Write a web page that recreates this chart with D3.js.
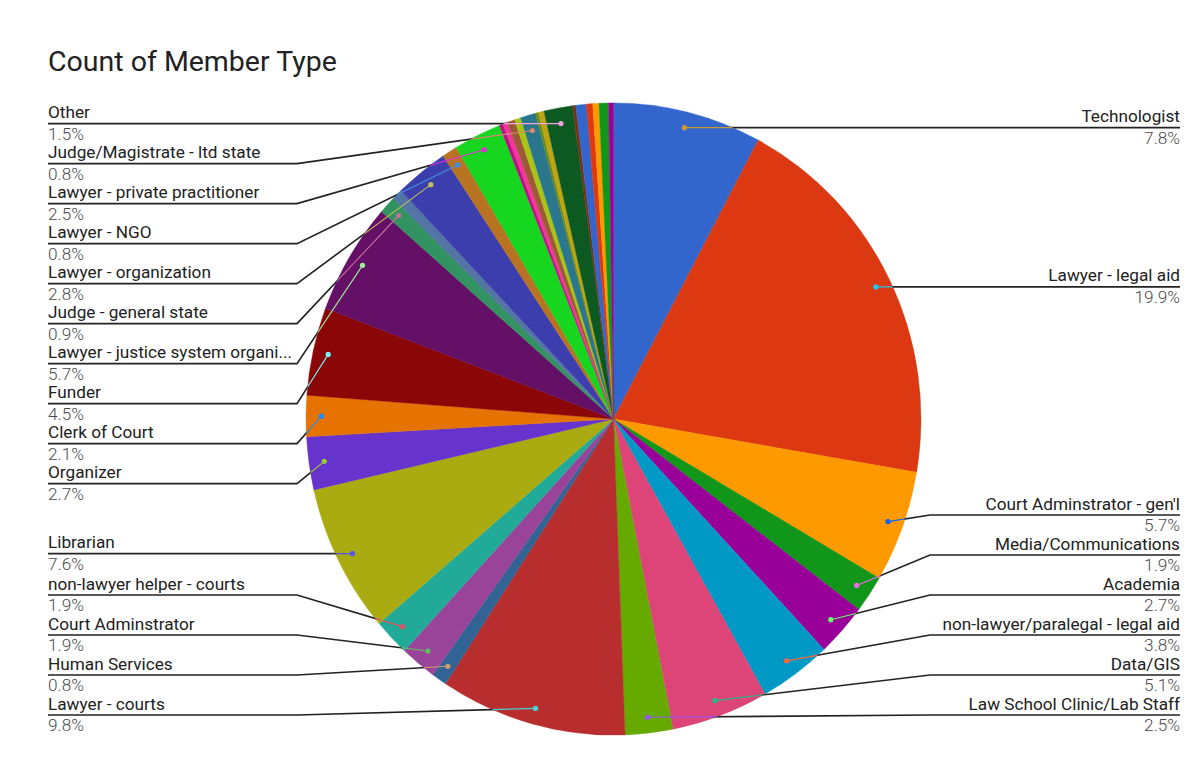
<!DOCTYPE html>
<html>
<head>
<meta charset="utf-8">
<script src="https://cdn.jsdelivr.net/npm/d3@7"></script>
<style>
  html, body { margin: 0; padding: 0; background: #fff; }
  svg { display: block; font-family: Roboto, "Noto Sans", Arial, sans-serif; }
</style>
</head>
<body>
<svg id="chart" width="1204" height="765"></svg>
<script>
// Member types in sheet order (pie runs clockwise from 12 o'clock).
// Empty names are small categories whose labels are not shown.
const memberTypes = [
  "Technologist",
  "Lawyer - legal aid",
  "Court Adminstrator - gen'l",
  "Media/Communications",
  "Academia",
  "non-lawyer/paralegal - legal aid",
  "Data/GIS",
  "Law School Clinic/Lab Staff",
  "Lawyer - courts",
  "Human Services",
  "Court Adminstrator",
  "non-lawyer helper - courts",
  "Librarian",
  "Organizer",
  "Clerk of Court",
  "Funder",
  "Lawyer - justice system organization",
  "Judge - general state",
  "",
  "Lawyer - organization",
  "Lawyer - NGO",
  "Lawyer - private practitioner",
  "", "", "", "",
  "Judge/Magistrate - ltd state",
  "", "",
  "Other",
  "", "", "", "", "", ""
];

// Share of members per type (percent).
const memberShares = [
  7.8, 19.9, 5.7, 1.9, 2.7, 3.8, 5.1, 2.5, 9.8, 0.8,
  1.9, 1.9, 7.6, 2.7, 2.1, 4.5, 5.7, 0.9, 0.55, 2.8,
  0.8, 2.5, 0.2, 0.25, 0.39, 0.33, 0.8, 0.15, 0.3, 1.5,
  0.17, 0.55, 0.33, 0.33, 0.5, 0.25
];

// Series palette, assigned in order.
const palette = [
  "#3366cc", "#dc3912", "#ff9900", "#109618", "#990099", "#0099c6",
  "#dd4477", "#66aa00", "#b82e2e", "#316395", "#994499", "#22aa99",
  "#aaaa11", "#6633cc", "#e67300", "#8b0707", "#651067", "#329262",
  "#5574a6", "#3b3eac", "#b77322", "#16d620", "#b91383", "#f4359e",
  "#9c5935", "#a9c413", "#2a778d", "#668d1c", "#bea413", "#0c5922",
  "#743411"
];

const chartTitle = "Count of Member Type";

// ---- layout ----
const W = 1204, H = 765;
const cx = 613.5, cy = 419, R = 307.5, yStretch = 1.028;
const anchorFrac = 0.95;
const leftX = 48, rightX = 1180;
const elbowGap = 9;
const rowGap = 40, labelTop = 118, labelBottom = 715;

const svg = d3.select("#chart").attr("viewBox", `0 0 ${W} ${H}`);
const defs = svg.append("defs");

svg.append("text")
  .attr("x", 48).attr("y", 71)
  .attr("font-size", 28.5)
  .attr("fill", "#212121")
  .text(chartTitle);

const color = d3.scaleOrdinal().domain(d3.range(memberTypes.length)).range(palette);
const total = d3.sum(memberShares);
const pctFmt = d3.format(".1f");

const rows = memberTypes.map((name, i) => ({ name, value: memberShares[i], idx: i }));
const arcs = d3.pie().sort(null).value(d => d.value)(rows);
const arc = d3.arc().innerRadius(0).outerRadius(R);

// pie slices
const pieG = svg.append("g")
  .attr("transform", `translate(${cx},${cy}) scale(1,${yStretch})`);
pieG.selectAll("path")
  .data(arcs)
  .join("path")
  .attr("d", arc)
  .attr("fill", d => color(d.data.idx))
  .attr("stroke", d => color(d.data.idx))
  .attr("stroke-width", 0.4);

// clip to the pie outline, and a mask for everything outside it
defs.append("clipPath").attr("id", "pieClip")
  .attr("clipPathUnits", "userSpaceOnUse")
  .append("ellipse").attr("cx", cx).attr("cy", cy).attr("rx", R).attr("ry", R * yStretch);
const mask = defs.append("mask").attr("id", "outsidePie")
  .attr("maskUnits", "userSpaceOnUse")
  .attr("x", 0).attr("y", 0).attr("width", W).attr("height", H);
mask.append("rect").attr("width", W).attr("height", H).attr("fill", "#fff");
mask.append("ellipse").attr("cx", cx).attr("cy", cy).attr("rx", R - 0.5).attr("ry", (R - 0.5) * yStretch).attr("fill", "#000");

function inverse(c) {
  const r = d3.rgb(c);
  return d3.rgb(255 - r.r, 255 - r.g, 255 - r.b).formatHex();
}

// label anchors on the slice mid-angles
const labels = arcs.filter(d => d.data.name).map(d => {
  const a = (d.startAngle + d.endAngle) / 2;
  return {
    d,
    name: d.data.name,
    pct: pctFmt(d.data.value / total * 100) + "%",
    col: color(d.data.idx),
    side: a < Math.PI ? "right" : "left",
    ax: cx + anchorFrac * R * Math.sin(a),
    ay: cy - anchorFrac * R * Math.cos(a) * yStretch
  };
});

// stack labels on each side without overlap
["left", "right"].forEach(side => {
  const list = labels.filter(l => l.side === side).sort((a, b) => a.ay - b.ay);
  let prev = -Infinity;
  list.forEach(l => { l.y = Math.max(l.ay, labelTop, prev + rowGap); prev = l.y; });
  let next = Infinity;
  for (let i = list.length - 1; i >= 0; i--) {
    const l = list[i];
    l.y = Math.min(l.y, labelBottom, next - rowGap);
    next = l.y;
  }
});

const labelG = svg.append("g");
labels.forEach(l => {
  const isLeft = l.side === "left";
  const tx = isLeft ? leftX : rightX;
  const ex = isLeft ? cx - R - elbowGap : cx + R + elbowGap;
  const path = `M${tx},${l.y}H${ex}L${l.ax},${l.ay}`;

  labelG.append("path").attr("d", path)
    .attr("fill", "none").attr("stroke", "#222").attr("stroke-width", 1.6)
    .attr("mask", "url(#outsidePie)");
  labelG.append("path").attr("d", path)
    .attr("fill", "none").attr("stroke", inverse(l.col)).attr("stroke-width", 1.1)
    .attr("clip-path", "url(#pieClip)");
  labelG.append("circle")
    .attr("cx", l.ax).attr("cy", l.ay).attr("r", 2.6)
    .attr("fill", inverse(l.col));

  const nameT = labelG.append("text")
    .attr("x", tx).attr("y", l.y - 5.5)
    .attr("text-anchor", isLeft ? "start" : "end")
    .attr("font-size", 17.2).attr("fill", "#212121")
    .text(l.name);
  // shorten names that run past the elbow
  const maxW = Math.abs(ex - tx) - 4;
  if (nameT.node().getComputedTextLength() > maxW) {
    let s = l.name;
    while (s.length > 1) {
      s = s.slice(0, -1);
      nameT.text(s.trimEnd() + "...");
      if (nameT.node().getComputedTextLength() <= maxW) break;
    }
  }

  labelG.append("text")
    .attr("x", tx).attr("y", l.y + 16)
    .attr("text-anchor", isLeft ? "start" : "end")
    .attr("font-size", 17.2).attr("font-weight", 300).attr("fill", "#4a4a4a")
    .text(l.pct);
});
</script>
</body>
</html>
